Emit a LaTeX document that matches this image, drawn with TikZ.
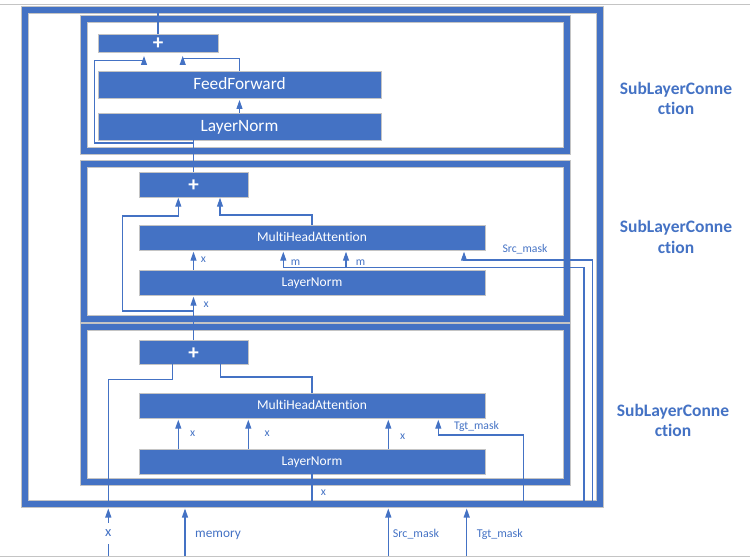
\documentclass[tikz,border=0pt]{standalone}
\usepackage{fontspec}
\setmainfont{Carlito}[Ligatures={NoCommon}]
\usetikzlibrary{arrows.meta,calc}
\definecolor{bl}{HTML}{4472C4}
\definecolor{gr}{HTML}{C4C4C4}
\begin{document}
\begin{tikzpicture}[x=1pt,y=-1pt,
  frm/.style={draw=gr, double=bl, double distance=6.5pt, line width=0.8pt, inner sep=0pt, outer sep=0pt},
  blk/.style={fill=bl, draw=gr, line width=0.8pt, text=white, inner sep=0pt, outer sep=0pt, text depth=0pt},
  big/.style={blk, text height=11pt, font=\fontsize{17.3}{20}\selectfont},
  mid/.style={blk, text height=8.6pt, font=\fontsize{13.5}{16}\selectfont},
  pls/.style={blk, text height=14pt, font=\bfseries\fontsize{21}{24}\selectfont},
  con/.style={draw=bl, line width=1.1pt},
  arr/.style={con, -{Triangle[length=9pt,width=6pt]}},
  lbl/.style={text=bl, inner sep=0pt, anchor=base west, font=\fontsize{11.7}{14}\selectfont},
  inl/.style={text=bl, inner sep=0pt, anchor=base west, font=\fontsize{13.3}{16}\selectfont},
  ttl/.style={text=bl, inner sep=0pt, anchor=base, font=\bfseries\fontsize{17.5}{21}\selectfont}
]
\useasboundingbox (0,0) rectangle (750,559);
\draw[gr, line width=1pt] (0,5) -- (750,5);
\draw[gr, line width=1pt] (0,556.7) -- (750,556.7);

% frames
\node[frm, minimum width=575pt, minimum height=494pt] (outer) at (312.5,257) {};
\node[frm, minimum width=483pt, minimum height=132pt] (sl1) at (325.5,85) {};
\node[frm, minimum width=483pt, minimum height=155pt] (sl2) at (325.5,241.5) {};
\node[frm, minimum width=483pt, minimum height=155pt] (sl3) at (325.5,404.5) {};

% blocks
\node[pls, minimum width=120pt, minimum height=18pt] (plus1) at (158,43) {+};
\node[big, minimum width=283pt, minimum height=27pt] (ff) at (239.5,84.5) {FeedForward};
\node[big, minimum width=283pt, minimum height=27pt] (ln1) at (239.5,126.5) {LayerNorm};

\node[pls, minimum width=109pt, minimum height=25pt] (plus2) at (193.5,184.5) {+};
\node[mid, minimum width=346pt, minimum height=25pt] (mha2) at (312,237.5) {MultiHeadAttention};
\node[mid, minimum width=346pt, minimum height=25pt] (ln2) at (312,282.5) {LayerNorm};

\node[pls, minimum width=109pt, minimum height=24pt] (plus3) at (193.5,352) {+};
\node[mid, minimum width=346pt, minimum height=25pt] (mha3) at (312,405.5) {MultiHeadAttention};
\node[mid, minimum width=346pt, minimum height=25pt] (ln3) at (312,461.5) {LayerNorm};

% titles
\node[ttl] (t1a) at (676,95) {SubLayerConne};
\node[ttl] (t1b) at (676,115) {ction};
\node[ttl] (t2a) at (676,232.7) {SubLayerConne};
\node[ttl] (t2b) at (676,253.3) {ction};
\node[ttl] (t3a) at (673,416.7) {SubLayerConne};
\node[ttl] (t3b) at (673,436.7) {ction};

% ---- sublayer 1
\draw[con] (plus1.north) -- ++(0,-22);
\draw[arr, shorten >=2pt] (ln1.north) -- (ff.south);
\draw[arr] (ff.north) -- ++(0,-12.7) -| ($(plus1.south)+(24.7,4)$);
\coordinate (j1) at ($(plus2.north |- ln1.south)+(0,3)$);
\draw[con] (plus2.north) -- (plus2.north |- ln1.south);
\draw[arr] (j1) -- (94.3,143) -- (94.3,60.3) -- (144,60.3) -- ($(plus1.south)+(-14,4)$);

% ---- sublayer 2
\draw[arr] (plus3.north) -- ($(plus3.north |- ln2.south)+(0,1.7)$);
\node[lbl] (x2b) at (203.5,307.7) {x};
\draw[arr] (plus2.south |- ln2.north) -- ($(plus2.south |- mha2.south)+(0,1.7)$);
\node[lbl] (x2a) at (200.7,262.3) {x};
\coordinate (j2) at ($(plus3.north |- ln2.south)+(0,16)$);
\draw[arr] (j2) -- (122.3,311) -- (122.3,216) -- (178.3,216) -- ($(plus2.south)+(-15.2,0.7)$);
\draw[arr] (mha2.north) -- ++(0,-10) -| ($(plus2.south)+(26.5,0.7)$);
\draw[con] (584,501) -- (584,267.3) -- (283.3,267.3);
\draw[arr] (283.3,267.3) -- ($(mha2.south west)+(144.3,1.7)$);
\draw[arr] (346,267.3) -- ($(mha2.south west)+(207,1.7)$);
\node[lbl] (m1) at (290.7,265.7) {m};
\node[lbl] (m2) at (355.7,265.7) {m};
\draw[arr] (592.3,501) -- (592.3,260) -- (464,260) -- ($(mha2.south west)+(325,1.7)$);
\node[lbl] (srcl) at (502.3,252.7) {Src\_mask};

% ---- sublayer 3
\draw[arr] ($(ln3.north west)+(39.3,0)$) -- ($(mha3.south west)+(39.3,1.7)$);
\draw[arr] ($(ln3.north west)+(109.3,0)$) -- ($(mha3.south west)+(109.3,1.7)$);
\draw[arr] ($(ln3.north west)+(249.3,0)$) -- ($(mha3.south west)+(249.3,1.7)$);
\node[lbl] (x3a) at (190,436.7) {x};
\node[lbl] (x3b) at (264.3,436.7) {x};
\node[lbl] (x3c) at (400,439) {x};
\draw[arr] (523.3,501) -- (523.3,435) -- (438.3,435) -- ($(mha3.south west)+(299.3,1.7)$);
\node[lbl] (tgtl) at (454,429.3) {Tgt\_mask};
\draw[con] (mha3.north) -- ++(0,-16) -| ($(plus3.south)+(27.2,0)$);
\draw[con] (108.3,501) -- (108.3,379.3) -| ($(plus3.south)+(-21.2,0)$);
\draw[con] (ln3.south) -- ++(0,27);
\node[lbl] (x3d) at (320.7,495) {x};

% ---- inputs
\node[text=bl, inner sep=0pt, minimum height=21pt, minimum width=8pt, font=\fontsize{14.5}{17}\selectfont] (xin) at (108.3,533.5) {x};
\draw[arr] (xin.north) -- (108.3,508.5);
\draw[con] (108.3,556) -- (xin.south);
\coordinate (memin) at (185,556);
\draw[arr] (memin) -- (185,508.5);
\node[inl] (meml) at (195,537.3) {memory};
\coordinate (srcin) at (388.3,556);
\draw[arr] (srcin) -- (388.3,508.5);
\node[lbl, font=\fontsize{12}{14}\selectfont] (srcb) at (392.7,537.3) {Src\_mask};
\coordinate (tgtin) at (466.7,556);
\draw[arr] (tgtin) -- (466.7,508.5);
\node[lbl, font=\fontsize{12}{14}\selectfont] (tgtb) at (476.7,537.3) {Tgt\_mask};
\end{tikzpicture}
\end{document}
